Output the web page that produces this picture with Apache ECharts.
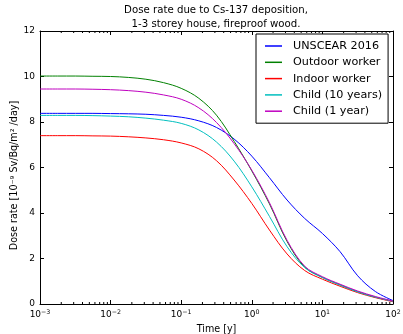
<!DOCTYPE html>
<html>
<head>
<meta charset="utf-8">
<script src="https://cdn.jsdelivr.net/npm/echarts@6/dist/echarts.min.js"></script>
<style>
  html, body { margin: 0; padding: 0; background: #fff; }
  #chart { width: 403px; height: 334px; }
</style>
</head>
<body>
<div id="chart"></div>
<script>
// time points [y], shared by all curves (quarter decades)
const times = [0.001, 0.00178, 0.00316, 0.00562, 0.01, 0.0178, 0.0316, 0.0562, 0.1, 0.178, 0.316, 0.562,
  1, 1.78, 3.16, 5.62, 10, 17.8, 31.6, 56.2, 100]

// dose rate [1e-9 Sv/Bq/m2/day]
const unscear = [8.38, 8.38, 8.38, 8.38, 8.37, 8.36, 8.34, 8.29, 8.21, 8.05, 7.76, 7.25, 6.5, 5.55, 4.57, 3.76, 3.1, 2.3, 1.24, 0.55, 0.15]
const outdoor = [10.02, 10.02, 10.02, 10.01, 10.0, 9.96, 9.88, 9.73, 9.48, 9.04, 8.3, 7.15, 5.85, 4.4, 2.75, 1.62, 1.17, 0.84, 0.54, 0.3, 0.12]
const indoor  = [7.4, 7.4, 7.4, 7.39, 7.38, 7.35, 7.3, 7.22, 7.08, 6.82, 6.3, 5.45, 4.42, 3.25, 2.2, 1.47, 1.09, 0.78, 0.5, 0.28, 0.1]
const child10 = [8.29, 8.29, 8.29, 8.28, 8.26, 8.23, 8.17, 8.08, 7.94, 7.65, 7.12, 6.28, 5.15, 3.85, 2.52, 1.6, 1.16, 0.83, 0.53, 0.3, 0.12]
const child1  = [9.45, 9.45, 9.45, 9.44, 9.42, 9.38, 9.31, 9.19, 9.0, 8.62, 7.98, 7.05, 5.88, 4.45, 2.8, 1.66, 1.2, 0.87, 0.57, 0.33, 0.13]

const seriesNames = ['UNSCEAR 2016', 'Outdoor worker', 'Indoor worker', 'Child (10 years)', 'Child (1 year)']
const seriesColors = ['#0000ff', '#008000', '#ff0000', '#00bfbf', '#bf00bf']

const yTicks = [0, 2, 4, 6, 8, 10, 12]
// minor ticks of the log axis
const minorTicks = [
  0.002, 0.003, 0.004, 0.005, 0.006, 0.007, 0.008, 0.009,
  0.02, 0.03, 0.04, 0.05, 0.06, 0.07, 0.08, 0.09,
  0.2, 0.3, 0.4, 0.5, 0.6, 0.7, 0.8, 0.9,
  2, 3, 4, 5, 6, 7, 8, 9,
  20, 30, 40, 50, 60, 70, 80, 90
]

const font = 'DejaVu Sans'
const chart = echarts.init(document.getElementById('chart'), null, { renderer: 'canvas' })

const lines = [unscear, outdoor, indoor, child10, child1].map((vals, i) => ({
  name: seriesNames[i],
  type: 'line',
  data: times.map((t, j) => [t, vals[j]]),
  showSymbol: false,
  symbol: 'none',
  smooth: 0.35,
  lineStyle: { width: 1, color: seriesColors[i] },
  itemStyle: { color: seriesColors[i] },
  z: 3
}))

const expLabel = v => {
  const e = Math.round(Math.log10(v))
  return '10{s|' + (e < 0 ? '\u2212' + (-e) : e) + '}'
}

chart.setOption({
  animation: false,
  textStyle: { fontFamily: font },
  title: {
    text: 'Dose rate due to Cs-137 deposition,\n1-3 storey house, fireproof wood.',
    left: 216,
    top: 3,
    padding: 0,
    textAlign: 'center',
    textStyle: { fontFamily: font, fontSize: 10.2, fontWeight: 'normal', color: '#000', lineHeight: 14 }
  },
  legend: {
    data: seriesNames,
    orient: 'vertical',
    left: 256,
    top: 34,
    padding: [5, 6, 5, 9],
    itemGap: 2.3,
    itemWidth: 17,
    itemHeight: 1.5,
    icon: 'rect',
    borderColor: '#000',
    borderWidth: 1,
    backgroundColor: '#fff',
    textStyle: { fontFamily: font, fontSize: 11.2, color: '#000', lineHeight: 14, padding: [0, 0, 0, 6] }
  },
  grid: { left: 40, right: 10, top: 31, bottom: 30, outerBoundsMode: 'none', containLabel: false },
  xAxis: [{
    type: 'log',
    logBase: 10,
    min: 0.001,
    max: 100,
    name: 'Time [y]',
    nameLocation: 'middle',
    nameGap: 19,
    nameTextStyle: { fontFamily: font, fontSize: 9.6, color: '#000' },
    axisLine: { show: true, onZero: false, lineStyle: { color: '#000', width: 1 } },
    axisTick: { show: true, inside: true, length: 4, lineStyle: { color: '#000' } },
    splitLine: { show: false },
    axisLabel: {
      color: '#000', fontFamily: font, fontSize: 9, margin: 5,
      formatter: expLabel,
      rich: { s: { fontSize: 6.3, fontFamily: font, color: '#000', padding: [0, 0, 6, 0] } }
    }
  }, {
    type: 'log',
    logBase: 10,
    min: 0.001,
    max: 100,
    position: 'top',
    axisLine: { show: true, onZero: false, lineStyle: { color: '#000', width: 1 } },
    axisTick: { show: true, inside: true, length: 4, lineStyle: { color: '#000' } },
    axisLabel: { show: false },
    splitLine: { show: false }
  }],
  yAxis: [{
    type: 'value',
    min: yTicks[0],
    max: yTicks[yTicks.length - 1],
    interval: 2,
    name: 'Dose rate [10\u207B\u2079 Sv/Bq/m\u00B2 /day]',
    nameLocation: 'middle',
    nameGap: 21,
    nameMoveOverlap: false,
    nameTextStyle: { fontFamily: font, fontSize: 9.6, color: '#000', padding: [0, 16, 0, 0] },
    axisLine: { show: true, onZero: false, lineStyle: { color: '#000', width: 1 } },
    axisTick: { show: true, inside: true, length: 4, lineStyle: { color: '#000' } },
    splitLine: { show: false },
    axisLabel: { color: '#000', fontFamily: font, fontSize: 9, margin: 5 }
  }, {
    type: 'value',
    min: yTicks[0],
    max: yTicks[yTicks.length - 1],
    interval: 2,
    position: 'right',
    axisLine: { show: true, onZero: false, lineStyle: { color: '#000', width: 1 } },
    axisTick: { show: true, inside: true, length: 4, lineStyle: { color: '#000' } },
    axisLabel: { show: false },
    splitLine: { show: false }
  }],
  series: lines.concat([{
    name: 'minor',
    type: 'custom',
    silent: true,
    clip: false,
    z: 4,
    data: minorTicks.map(v => [v, 0]),
    renderItem: (params, api) => {
      const bot = api.coord([api.value(0), yTicks[0]])
      const top = api.coord([api.value(0), yTicks[yTicks.length - 1]])
      const st = { stroke: '#000', lineWidth: 1 }
      return {
        type: 'group',
        children: [
          { type: 'line', shape: { x1: bot[0], y1: bot[1], x2: bot[0], y2: bot[1] - 2 }, style: st },
          { type: 'line', shape: { x1: top[0], y1: top[1], x2: top[0], y2: top[1] + 2 }, style: st }
        ]
      }
    }
  }])
})
</script>
</body>
</html>
